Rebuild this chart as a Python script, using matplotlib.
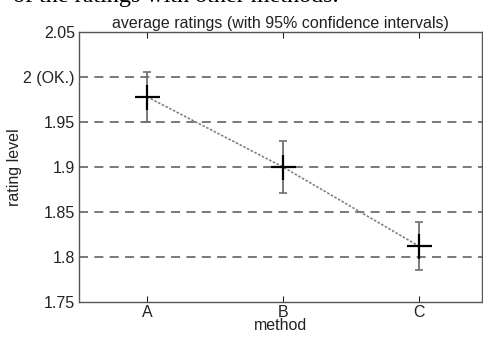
import matplotlib
matplotlib.use("Agg")
import matplotlib.pyplot as plt

methods = ["A", "B", "C"]
means = [1.978, 1.900, 1.812]
ci = [0.028, 0.029, 0.027]
yticks = [1.75, 1.8, 1.85, 1.9, 1.95, 2.0, 2.05]
ytick_labels = ["1.75", "1.8", "1.85", "1.9", "1.95", "2 (OK.)", "2.05"]
grid_levels = [1.8, 1.85, 1.9, 1.95, 2.0]

plt.rcParams['font.family'] = ['Liberation Sans', 'DejaVu Sans']

fig = plt.figure(figsize=(4.83, 3.37), dpi=100)
ax = fig.add_axes([79/483, 1 - 302/337, (482 - 79)/483, (302 - 32)/337])

x = [1, 2, 3]
for g in grid_levels:
    ax.axhline(g, color="#6e6e6e", lw=1.3, ls=(0, (5, 3.5)), zorder=1)

ax.plot(x, means, color="#808080", lw=1.2, ls=(0, (1.5, 1)), zorder=2)
ax.errorbar(x, means, yerr=ci, fmt="none", ecolor="#707070", elinewidth=1.3,
            capsize=3.2, capthick=1.2, zorder=3)
ax.plot(x, means, ls="none", marker="+", ms=18, mew=1.6, color="black", zorder=4)

ax.set_xlim(0.5, 3.463)
ax.set_ylim(1.75, 2.05)
ax.set_xticks(x)
ax.set_xticklabels(methods)
ax.set_yticks(yticks)
ax.set_yticklabels(ytick_labels)
ax.tick_params(direction="in", top=True, right=False, length=4, labelsize=11.5,
               colors="#222222", width=0.8, pad=2)
ax.tick_params(axis="y", length=0, pad=3)
for s in ax.spines.values():
    s.set_color("#555555")
    s.set_linewidth(1.0)

ax.set_title("average ratings (with 95% confidence intervals)", fontsize=11.5,
             color="#222222", pad=3)
ax.set_xlabel("method", fontsize=11.5, color="#222222", labelpad=-1)
ax.set_ylabel("rating level", fontsize=11.5, color="#222222")
ax.yaxis.set_label_coords((22 - 79) / 403, 0.5)

fig.text(13/483, 1 - 2/337, "of the ratings with other methods.", fontsize=17.4,
         family=["Liberation Serif", "DejaVu Serif"], va="baseline", ha="left",
         color="black")

fig.savefig("out.png", dpi=100)
